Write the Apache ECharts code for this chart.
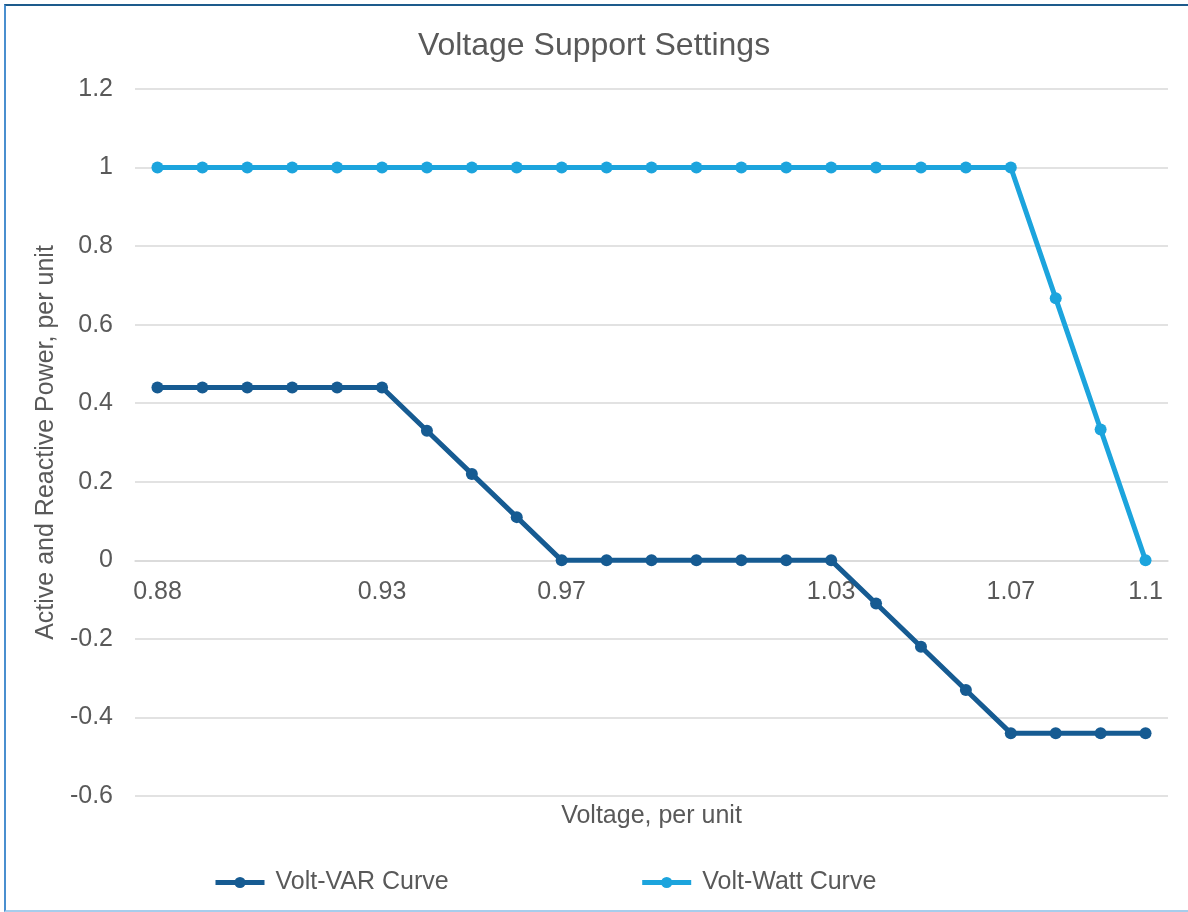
<!DOCTYPE html>
<html>
<head>
<meta charset="utf-8">
<title>Voltage Support Settings</title>
<script src="https://cdn.jsdelivr.net/npm/echarts@6/dist/echarts.min.js"></script>
<style>
  html, body { margin: 0; padding: 0; background: #fff; }
  #main { position: absolute; left: 0; top: 0; width: 1188px; height: 912px; }
  /* frame round the chart, as in the screenshot */
  #frame {
    position: absolute; left: 4px; top: 4px; width: 1200px; height: 904px;
    border-top: 2px solid #1d5b8c; border-left: 2px solid #4a8fcf; border-bottom: 2px solid #a7cdec;
    pointer-events: none;
  }
</style>
</head>
<body>
<div id="main"></div>
<div id="frame"></div>
<script>
// 电压 (per unit)
const voltages = ['0.88', '0.89', '0.9', '0.91', '0.92', '0.93', '0.94', '0.95', '0.96', '0.97', '0.98', '0.99',
  '1', '1.01', '1.02', '1.03', '1.04', '1.05', '1.06', '1.07', '1.08', '1.09', '1.1'];
// 只显示这些刻度标签
const shownTicks = ['0.88', '0.93', '0.97', '1.03', '1.07', '1.1'];
const voltVar = [0.44, 0.44, 0.44, 0.44, 0.44, 0.44, 0.33, 0.22, 0.11, 0, 0, 0,
  0, 0, 0, 0, -0.11, -0.22, -0.33, -0.44, -0.44, -0.44, -0.44];
const voltWatt = [1, 1, 1, 1, 1, 1, 1, 1, 1, 1, 1, 1,
  1, 1, 1, 1, 1, 1, 1, 1, 0.667, 0.333, 0];

const textColor = '#595959';
const fontFamily = "'Liberation Sans', Arial, sans-serif";

const yMin = -0.6;
const yMax = 1.2;
const gridTop = 89;
const gridBottom = 116;
// 把 x 轴挪到 0 的位置
const plotHeight = 912 - gridTop - gridBottom;
const zeroOffset = -plotHeight * (0 - yMin) / (yMax - yMin);

const myChart = echarts.init(document.getElementById('main'));
const option = {
  backgroundColor: '#fff',
  textStyle: { fontFamily: fontFamily, color: textColor },
  title: {
    text: 'Voltage Support Settings',
    left: 'center',
    top: 25,
    textStyle: { fontSize: 32, fontWeight: 'normal', color: textColor, fontFamily: fontFamily }
  },
  grid: { left: 135, right: 20, top: gridTop, bottom: gridBottom, containLabel: false, outerBoundsMode: 'none' },
  legend: {
    left: 213,
    top: 870,
    padding: 0,
    itemGap: 191,
    itemWidth: 49,
    itemHeight: 14,
    lineStyle: { width: 5 },
    textStyle: { fontSize: 25, color: textColor, fontFamily: fontFamily, padding: [0, 0, 0, 6] },
    data: ['Volt-VAR Curve', 'Volt-Watt Curve']
  },
  xAxis: {
    type: 'category',
    data: voltages,
    boundaryGap: true,
    position: 'bottom',
    offset: zeroOffset,
    name: 'Voltage, per unit',
    nameLocation: 'middle',
    nameGap: 243,
    nameTextStyle: { fontSize: 25, color: textColor, fontFamily: fontFamily },
    axisLine: { onZero: false, lineStyle: { color: '#d9d9d9', width: 1.5 } },
    axisTick: { show: false },
    axisLabel: {
      fontSize: 25,
      color: textColor,
      margin: 19,
      interval: (i) => shownTicks.includes(voltages[i])
    }
  },
  yAxis: {
    type: 'value',
    min: yMin,
    max: yMax,
    interval: 0.2,
    name: 'Active and Reactive Power, per unit',
    nameLocation: 'middle',
    nameGap: 69,
    nameTextStyle: { fontSize: 25, color: textColor, fontFamily: fontFamily },
    axisLine: { show: false },
    axisTick: { show: false },
    axisLabel: { fontSize: 25, color: textColor, margin: 22 },
    splitLine: { lineStyle: { color: '#d9d9d9', width: 1.5 } }
  },
  series: [
    {
      name: 'Volt-VAR Curve',
      type: 'line',
      data: voltVar,
      symbol: 'circle',
      symbolSize: 12,
      itemStyle: { color: '#165b92' },
      lineStyle: { color: '#165b92', width: 5 }
    },
    {
      name: 'Volt-Watt Curve',
      type: 'line',
      data: voltWatt,
      symbol: 'circle',
      symbolSize: 12,
      itemStyle: { color: '#1ca4dd' },
      lineStyle: { color: '#1ca4dd', width: 5 }
    }
  ]
};
myChart.setOption(option);
</script>
</body>
</html>
